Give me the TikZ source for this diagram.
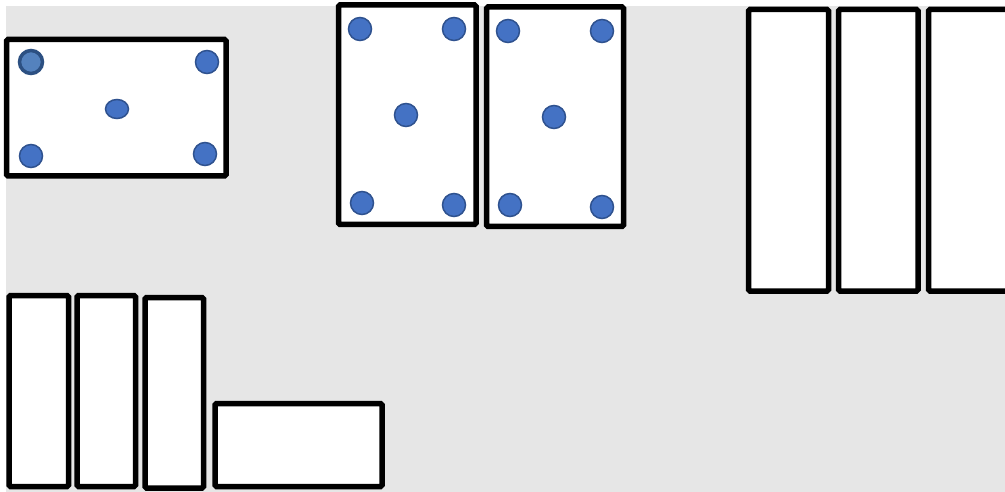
\documentclass[tikz,border=0pt]{standalone}
\definecolor{bggray}{RGB}{230,230,230}
\definecolor{dotfill}{RGB}{68,114,196}
\definecolor{dotedge}{RGB}{47,82,143}
\definecolor{dotselfill}{RGB}{84,130,190}
\definecolor{dotseledge}{RGB}{44,80,130}
\begin{document}
\begin{tikzpicture}[x=1pt,y=-1pt,
  box/.style={draw=black,fill=white,line width=5.5pt,rounded corners=1.5pt},
  dot/.style={fill=dotfill,draw=dotedge,line width=1.5pt},
  dotsel/.style={fill=dotselfill,draw=dotseledge,line width=3.5pt}]
\useasboundingbox (0,0) rectangle (1005,492);
\clip (0,0) rectangle (1005,492);
\fill[white] (0,0) rectangle (1005,492);
\fill[bggray] (6,6) rectangle (1005,492);
% top-left box
\draw[box] (6.5,39.5) rectangle (226,176);
\draw[dotsel] (31,62) circle (11.5);
\draw[dot] (207,62) circle (11.5);
\draw[dot] (117,109) ellipse (11.5 and 9.5);
\draw[dot] (31,156) circle (11.5);
\draw[dot] (205,154) circle (11.5);
% middle boxes
\draw[box] (338.5,5) rectangle (476,224.5);
\draw[dot] (360,29) circle (11.5);
\draw[dot] (454,29) circle (11.5);
\draw[dot] (406,115) circle (11.5);
\draw[dot] (362,203) circle (11.5);
\draw[dot] (454,205) circle (11.5);
\draw[box] (486.5,7) rectangle (623.5,226.5);
\draw[dot] (508,31) circle (11.5);
\draw[dot] (602,31) circle (11.5);
\draw[dot] (554,117) circle (11.5);
\draw[dot] (510,205) circle (11.5);
\draw[dot] (602,207) circle (11.5);
% right boxes
\draw[box] (748.5,9.5) rectangle (828.5,291);
\draw[box] (838.5,9.5) rectangle (918,291);
\draw[box] (928.5,9.5) rectangle (1020,291);
% bottom-left boxes
\draw[box] (9,295.5) rectangle (68.5,486.5);
\draw[box] (77,295.5) rectangle (135.5,486.5);
\draw[box] (145,297.5) rectangle (203.5,488);
\draw[box] (215,403.5) rectangle (382,486.5);
\end{tikzpicture}
\end{document}
